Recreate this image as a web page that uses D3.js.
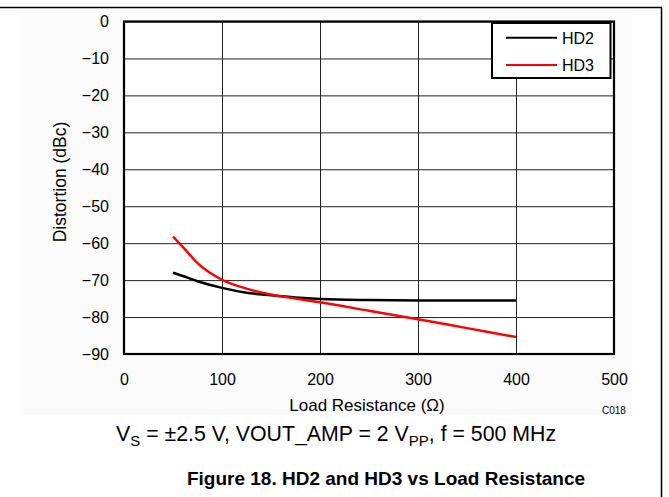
<!DOCTYPE html>
<html><head><meta charset="utf-8">
<script src="https://cdn.jsdelivr.net/npm/d3@7"></script>
<style>body{margin:0;background:#fff} text{font-family:"Liberation Sans",Arial,sans-serif}</style>
</head><body><svg id="c" width="669" height="497"></svg>
<script>
const loadOhms = [50, 60, 75, 100, 125, 150, 175, 200, 250, 300, 350, 400];
const hd2 = [-68.0, -68.9, -70.3, -72.1, -73.4, -74.1, -74.7, -75.1, -75.4, -75.5, -75.5, -75.5];
const hd3 = [-58.2, -61.0, -65.4, -69.9, -72.3, -73.9, -75.0, -76.0, -78.3, -80.6, -83.0, -85.4];
const xTicks = [0, 100, 200, 300, 400, 500];
const yTicks = [0, -10, -20, -30, -40, -50, -60, -70, -80, -90];
const seriesNames = ["HD2", "HD3"];
const seriesColors = ["#000000", "#ff0000"];

const svg = d3.select("#c");
const L = 124, R = 614, T = 21.5, B = 354;
const x = d3.scaleLinear().domain([0, 500]).range([L, R]);
const y = d3.scaleLinear().domain([-90, 0]).range([B, T]);

// faint background panel
svg.append("rect").attr("x", 20).attr("y", 15).attr("width", 612).attr("height", 400).attr("fill", "#fbfbfb");
// page frame
svg.append("line").attr("x1", 0).attr("x2", 662).attr("y1", 7.5).attr("y2", 7.5).attr("stroke", "#000").attr("stroke-width", 1.5);
svg.append("line").attr("x1", 661.5).attr("x2", 661.5).attr("y1", 7).attr("y2", 497).attr("stroke", "#000").attr("stroke-width", 1.5);

svg.append("rect").attr("x", L).attr("y", T).attr("width", R - L).attr("height", B - T).attr("fill", "#fff");

// grid
svg.append("g").attr("transform", `translate(0,${B})`)
  .call(d3.axisBottom(x).tickValues(xTicks).tickSize(-(B - T)).tickFormat(""))
  .call(g => g.select(".domain").remove())
  .call(g => g.selectAll("line").attr("stroke", "#222").attr("stroke-width", 1));
svg.append("g").attr("transform", `translate(${L},0)`)
  .call(d3.axisLeft(y).tickValues(yTicks).tickSize(-(R - L)).tickFormat(""))
  .call(g => g.select(".domain").remove())
  .call(g => g.selectAll("line").attr("stroke", "#222").attr("stroke-width", 1));

// tick labels
svg.append("g").attr("transform", `translate(0,${B})`)
  .call(d3.axisBottom(x).tickValues(xTicks).tickSize(0).tickPadding(20))
  .call(g => g.select(".domain").remove())
  .call(g => g.selectAll("text").attr("font-size", 16).attr("fill", "#000").attr("font-family", "Liberation Sans, Arial, sans-serif"));
svg.append("g").attr("transform", `translate(${L},0)`)
  .call(d3.axisLeft(y).tickValues(yTicks).tickSize(0).tickPadding(15))
  .call(g => g.select(".domain").remove())
  .call(g => g.selectAll("text").attr("font-size", 16).attr("fill", "#000").attr("font-family", "Liberation Sans, Arial, sans-serif"));

// series
const line = d3.line().x((d, i) => x(loadOhms[i])).y(d => y(d)).curve(d3.curveMonotoneX);
[hd2, hd3].forEach((s, k) => {
  svg.append("path").attr("d", line(s)).attr("fill", "none")
    .attr("stroke", seriesColors[k]).attr("stroke-width", 2.5);
});

// plot border
svg.append("rect").attr("x", L).attr("y", T).attr("width", R - L).attr("height", B - T)
  .attr("fill", "none").attr("stroke", "#000").attr("stroke-width", 2.2);

// legend
const lg = svg.append("g");
lg.append("rect").attr("x", 492).attr("y", 23).attr("width", 118.5).attr("height", 55)
  .attr("fill", "#fff").attr("stroke", "#000").attr("stroke-width", 2);
seriesNames.forEach((n, k) => {
  const yy = 37.7 + k * 27.3;
  lg.append("line").attr("x1", 506).attr("x2", 557).attr("y1", yy).attr("y2", yy)
    .attr("stroke", seriesColors[k]).attr("stroke-width", 2);
  lg.append("text").attr("x", 562).attr("y", yy + 6).attr("font-size", 16).text(n);
});

// axis titles
svg.append("text").attr("transform", "translate(66,182) rotate(-90)")
  .attr("text-anchor", "middle").attr("font-size", 17.5).text("Distortion (dBc)");
svg.append("text").attr("x", 367).attr("y", 411).attr("text-anchor", "middle")
  .attr("font-size", 17).text("Load Resistance (Ω)");
svg.append("text").attr("x", 602).attr("y", 414).attr("font-size", 10).text("C018");

// conditions
const cond = svg.append("text").attr("x", 116).attr("y", 441).attr("font-size", 21.3);
cond.append("tspan").text("V");
cond.append("tspan").attr("dy", 5).attr("font-size", 15).text("S");
cond.append("tspan").attr("dy", -5).text(" = ±2.5 V, VOUT_AMP = 2 V");
cond.append("tspan").attr("dy", 5).attr("font-size", 15).text("PP");
cond.append("tspan").attr("dy", -5).text(", f = 500 MHz");

// caption
svg.append("text").attr("x", 386).attr("y", 485).attr("text-anchor", "middle")
  .attr("font-size", 19).attr("font-weight", "bold").text("Figure 18. HD2 and HD3 vs Load Resistance");
</script></body></html>
